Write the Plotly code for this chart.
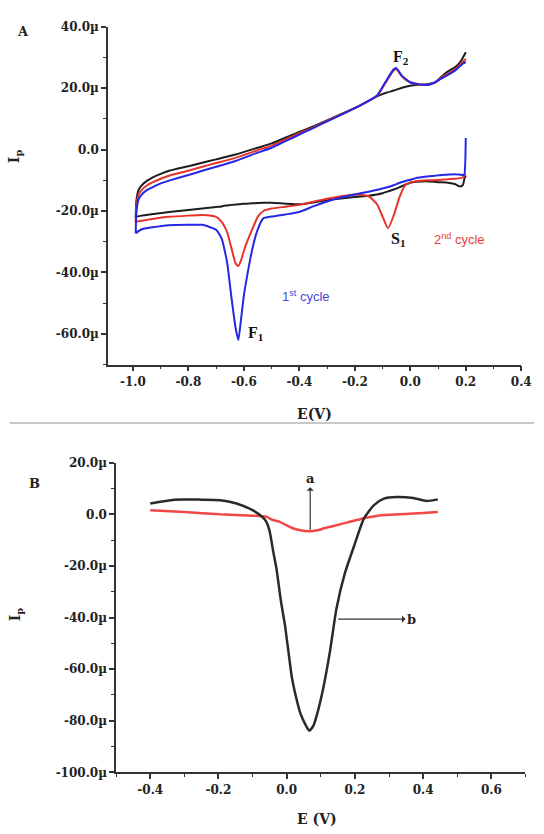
import plotly.graph_objects as go

# ---------------- Panel A : cyclic voltammograms (current in µA) ----------------
E_cathodic = [0.20, 0.195, 0.19, 0.18, 0.16, 0.13, 0.10, 0.06, 0.02, 0.00,
              -0.02, -0.04, -0.06, -0.08, -0.10, -0.12, -0.15, -0.20, -0.25, -0.30,
              -0.35, -0.40, -0.45, -0.50, -0.53, -0.55, -0.57, -0.59, -0.60, -0.61,
              -0.62, -0.63, -0.645, -0.66, -0.67, -0.68, -0.70, -0.75, -0.80, -0.87,
              -0.93, -0.97, -0.99]
E_anodic = [-0.99, -0.988, -0.985, -0.98, -0.97, -0.95, -0.93, -0.90, -0.87, -0.80,
            -0.75, -0.70, -0.63, -0.55, -0.50, -0.42, -0.35, -0.30, -0.25, -0.18,
            -0.12, -0.09, -0.06, -0.05, -0.03, 0.00, 0.03, 0.06, 0.09, 0.11,
            0.13, 0.16, 0.18, 0.19, 0.20]

black_cathodic = [-8.5, -9.5, -11.5, -12.0, -11.2, -10.7, -10.6, -10.3, -10.5, -10.8,
                  -11.5, -12.3, -13.0, -13.6, -14.2, -14.6, -15.0, -15.4, -15.9, -16.5,
                  -17.2, -17.8, -17.6, -17.3, -17.3, -17.4, -17.5, -17.6, -17.65, -17.7,
                  -17.8, -17.9, -18.0, -18.2, -18.3, -18.5, -18.7, -19.2, -19.7, -20.3,
                  -21.0, -21.5, -21.9]
black_anodic = [-21.9, -17.0, -15.0, -13.2, -11.8, -10.2, -9.1, -7.9, -6.9, -5.4,
                -4.3, -3.2, -1.6, 0.6, 2.0, 5.0, 7.5, 9.5, 11.5, 14.4,
                17.3, 18.4, 19.2, 19.5, 20.1, 20.8, 21.1, 21.3, 21.9, 23.5,
                25.1, 26.7, 28.5, 30.0, 31.7]

red_cathodic = [-8.0, -8.5, -9.0, -9.3, -9.5, -9.7, -9.9, -10.0, -10.3, -10.7,
                -11.8, -15.8, -21.5, -25.6, -21.8, -17.8, -15.2, -14.6, -15.2, -16.0,
                -17.0, -18.0, -18.6, -19.2, -20.0, -21.9, -26.0, -30.4, -33.0, -36.0,
                -37.9, -37.0, -32.0, -27.0, -25.0, -23.5, -21.9, -21.3, -21.5, -21.9,
                -22.6, -23.2, -23.5]
red_anodic = [-23.5, -19.0, -16.8, -14.8, -13.3, -11.7, -10.7, -9.5, -8.5, -6.9,
              -5.6, -4.4, -2.7, -0.2, 1.3, 4.5, 7.2, 9.3, 11.4, 14.4,
              17.4, 21.6, 25.7, 26.1, 23.8, 21.8, 21.2, 21.0, 21.9, 23.2,
              24.4, 26.0, 27.6, 28.6, 29.5]

blue_cathodic = [3.8, -8.0, -8.3, -8.2, -8.0, -8.2, -8.4, -8.8, -9.3, -9.8,
                 -10.3, -10.9, -11.6, -12.2, -12.7, -13.1, -13.7, -14.6, -15.6, -16.9,
                 -18.5, -20.3, -21.1, -21.8, -22.4, -26.0, -32.5, -42.0, -47.5, -55.0,
                 -62.0, -58.0, -48.0, -37.0, -32.5, -29.0, -26.1, -24.5, -24.5, -24.6,
                 -25.3, -26.0, -27.2]
blue_anodic = [-27.2, -21.0, -18.5, -16.3, -14.8, -13.2, -12.3, -11.0, -10.1, -8.3,
               -6.9, -5.6, -3.7, -1.0, 0.6, 4.0, 7.0, 9.2, 11.3, 14.4,
               17.6, 22.0, 26.1, 26.5, 24.0, 21.9, 21.3, 21.0, 21.9, 23.0,
               24.0, 25.6, 27.2, 28.0, 28.5]

A_xticks = [-1.0, -0.8, -0.6, -0.4, -0.2, 0.0, 0.2, 0.4]
A_xticktext = ["-1.0", "-0.8", "-0.6", "-0.4", "-0.2", "0.0", "0.2", "0.4"]
A_yticks = [40, 20, 0, -20, -40, -60]
A_yticktext = ["40.0µ", "20.0µ", "0.0", "-20.0µ", "-40.0µ", "-60.0µ"]

# ---------------- Panel B : differential pulse voltammograms (µA) ----------------
E_b = [-0.40, -0.33, -0.25, -0.195, -0.147, -0.10, -0.07, -0.06, -0.05, -0.04,
       -0.03, -0.017, -0.005, 0.005, 0.015, 0.026, 0.04, 0.055, 0.066, 0.078,
       0.09, 0.107, 0.127, 0.146, 0.17, 0.199, 0.227, 0.256, 0.285, 0.323,
       0.371, 0.41, 0.443]
I_b = [4.2, 5.7, 5.7, 5.5, 4.2, 1.6, -1.2, -2.8, -6.5, -14.0,
       -21.0, -33.5, -43.0, -53.0, -63.0, -70.0, -77.0, -81.5, -83.8, -82.0,
       -77.0, -67.5, -53.0, -36.5, -23.1, -11.7, -1.5, 3.6, 6.1, 6.7,
       6.3, 5.2, 5.8]
E_a = [-0.40, -0.30, -0.195, -0.10, -0.06, -0.041, -0.022, 0.0, 0.016, 0.04,
       0.064, 0.09, 0.112, 0.14, 0.17, 0.20, 0.227, 0.255, 0.285, 0.33,
       0.371, 0.41, 0.443]
I_a = [1.6, 0.9, 0.0, -0.5, -0.9, -2.2, -2.8, -4.3, -5.3, -6.2,
       -6.6, -6.2, -5.3, -4.4, -3.4, -2.4, -1.5, -0.8, -0.3, 0.0,
       0.3, 0.6, 0.9]

B_xticks = [-0.4, -0.2, 0.0, 0.2, 0.4, 0.6]
B_xticktext = ["-0.4", "-0.2", "0.0", "0.2", "0.4", "0.6"]
B_yticks = [20, 0, -20, -40, -60, -80, -100]
B_yticktext = ["20.0µ", "0.0", "-20.0µ", "-40.0µ", "-60.0µ", "-80.0µ", "-100.0µ"]

W, H = 544, 834
def px(x):
    return x / W
def py(y):
    return 1 - y / H

fig = go.Figure()

cycles = [
    ("#1e1e1e", black_cathodic, black_anodic),
    ("#e8332c", red_cathodic, red_anodic),
    ("#2626e6", blue_cathodic, blue_anodic),
]
for color, cath, anod in cycles:
    fig.add_trace(go.Scatter(
        x=E_cathodic + E_anodic, y=cath + anod, mode="lines",
        line=dict(color=color, width=2, shape="spline", smoothing=0.5),
        xaxis="x", yaxis="y", showlegend=False, hoverinfo="skip"))

fig.add_trace(go.Scatter(x=E_a, y=I_a, mode="lines",
                         line=dict(color="#f04848", width=2.5, shape="spline", smoothing=0.6),
                         xaxis="x2", yaxis="y2", showlegend=False))
fig.add_trace(go.Scatter(x=E_b, y=I_b, mode="lines",
                         line=dict(color="#2a2a2a", width=2.5, shape="spline", smoothing=0.6),
                         xaxis="x2", yaxis="y2", showlegend=False))

tickfont = dict(family="DejaVu Serif", size=12, color="#222", weight="bold")
axis_common = dict(showline=True, linecolor="#333", linewidth=1.5, showgrid=False,
                   zeroline=False, ticks="outside", ticklen=5, tickwidth=1.5,
                   tickcolor="#333", tickfont=tickfont, tickmode="array")
minor_common = dict(ticks="outside", ticklen=3, tickwidth=1.2, tickcolor="#333",
                    tickmode="linear", tick0=0)

fig.update_layout(
    width=W, height=H, margin=dict(l=0, r=0, t=0, b=0),
    paper_bgcolor="white", plot_bgcolor="white",
    xaxis=dict(domain=[px(110), px(531)], range=[-1.09, 0.40], anchor="y",
               tickvals=A_xticks, ticktext=A_xticktext,
               minor=dict(dtick=0.1, **minor_common), **axis_common),
    yaxis=dict(domain=[py(363.75), py(20)], range=[-70, 40], anchor="x",
               tickvals=A_yticks, ticktext=A_yticktext,
               minor=dict(dtick=10, **minor_common), **axis_common),
    xaxis2=dict(domain=[px(118.3), px(535.3)], range=[-0.5, 0.7], anchor="y2",
                tickvals=B_xticks, ticktext=B_xticktext,
                minor=dict(dtick=0.1, **minor_common), **axis_common),
    yaxis2=dict(domain=[py(778.5), py(463.5)], range=[-100, 20], anchor="x2",
                tickvals=B_yticks, ticktext=B_yticktext,
                minor=dict(dtick=10, **minor_common), **axis_common),
)

serif_bold = dict(family="Liberation Serif", size=16, color="#111", weight="bold")
label_font = dict(family="DejaVu Serif", size=13, color="#222", weight="bold")

ann = []
# panel A peak labels (data coordinates)
ann.append(dict(x=-0.033, y=30.0, xref="x", yref="y", text="F<sub>2</sub>",
                showarrow=False, font=serif_bold))
ann.append(dict(x=-0.555, y=-60.0, xref="x", yref="y", text="F<sub>1</sub>",
                showarrow=False, font=serif_bold))
ann.append(dict(x=-0.044, y=-29.3, xref="x", yref="y", text="S<sub>1</sub>",
                showarrow=False, font=serif_bold))
ann.append(dict(x=0.179, y=-29.0, xref="x", yref="y", text="2<sup>nd</sup> cycle",
                showarrow=False, font=dict(family="Liberation Sans", size=13, color="#e8403a")))
ann.append(dict(x=-0.375, y=-47.5, xref="x", yref="y", text="1<sup>st</sup> cycle",
                showarrow=False, font=dict(family="Liberation Sans", size=13, color="#4646d6")))
# panel B arrows with their labels (arrowhead drawn at the label end)
ann.append(dict(x=0.069, y=-6.0, ax=0.069, ay=14.0, xref="x2", yref="y2",
                axref="x2", ayref="y2", text="a", showarrow=True, arrowhead=2,
                arrowside="start", arrowsize=1, arrowwidth=1.2, arrowcolor="#333",
                font=label_font))
ann.append(dict(x=0.151, y=-40.6, ax=0.366, ay=-40.6, xref="x2", yref="y2",
                axref="x2", ayref="y2", text="b", showarrow=True, arrowhead=2,
                arrowside="start", arrowsize=1, arrowwidth=1.2, arrowcolor="#333",
                font=label_font))
# panel letters, axis titles (paper coordinates)
for text, x, y, angle, size in [
    ("A", 23, 25, 0, 13), ("B", 35, 485, 0, 13),
    ("I<sub>p</sub>", 16, 152, -90, 14), ("I<sub>p</sub>", 16, 618, -90, 14),
    ("E(V)", 320, 414, 0, 14), ("E (V)", 323, 826, 0, 14),
]:
    ann.append(dict(x=px(x), y=py(y), xref="paper", yref="paper", text=text,
                    textangle=angle, showarrow=False, xanchor="center", yanchor="middle",
                    font=dict(family="DejaVu Serif", size=size, color="#222", weight="bold")))
fig.update_layout(annotations=ann)

fig.add_shape(type="line", xref="paper", yref="paper", x0=px(10), x1=1,
              y0=py(423), y1=py(423), line=dict(color="#c8c8c8", width=2))

fig.write_html("out.html", config={"displayModeBar": False},
               post_script="document.body.style.margin='0';")
